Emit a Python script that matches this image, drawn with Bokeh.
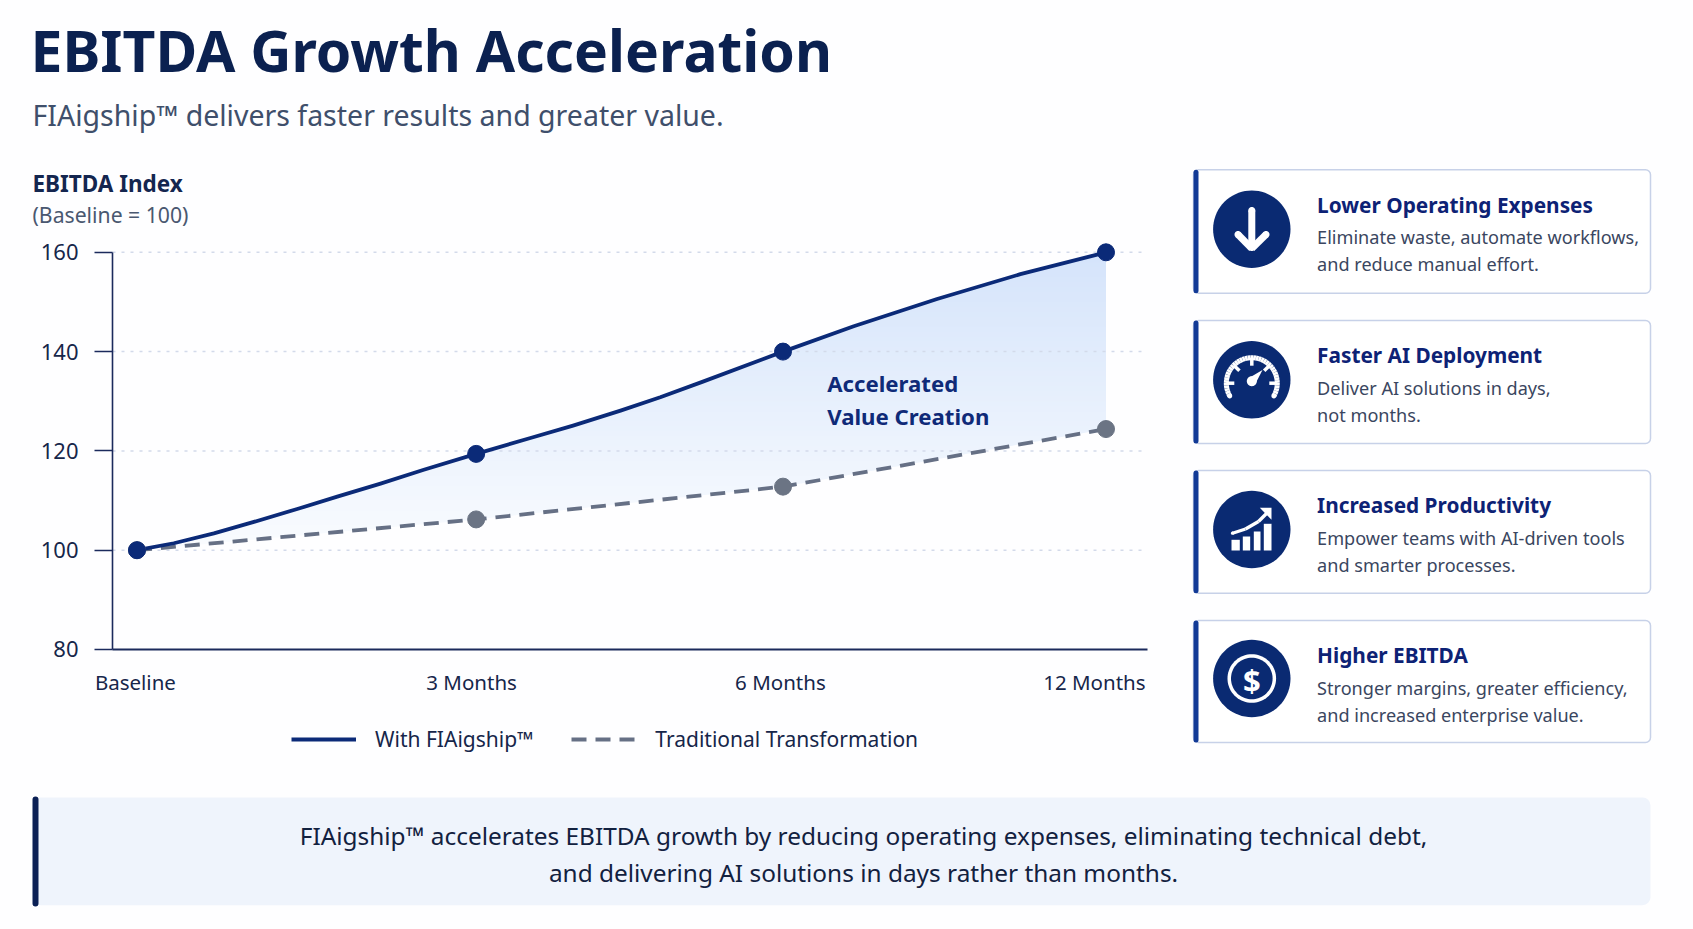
import numpy as np
from bokeh.embed import file_html
from bokeh.resources import INLINE
from bokeh.plotting import figure
from bokeh.models import (BoxAnnotation, FixedTicker, Label, Legend, LegendItem, PolyAnnotation)

TITLE = "EBITDA Growth Acceleration"
SUBTITLE = "FIAigship\u2122 delivers faster results and greater value."
Y_TITLE = "EBITDA Index"
Y_SUB = "(Baseline = 100)"
CATEGORIES = ["Baseline", "3 Months", "6 Months", "12 Months"]
CATEGORY_LABEL_POS = [-0.005, 1.036, 1.992, 2.964]
Y_TICKS = [80, 100, 120, 140, 160]

# marker positions along the (slightly uneven) time axis of the picture
MARK_POS = [0.0, 1.05, 2.0, 3.0]
WITH_VALUES = [100, 119.4, 140, 160]
TRAD_VALUES = [100, 106.2, 112.8, 124.4]
# the solid curve
WITH_CURVE_POS = [0.0, 0.114, 0.238, 0.362, 0.496, 0.62, 0.754, 0.888, 1.05, 1.218, 1.35, 1.497,
                  1.62, 1.75, 2.0, 2.219, 2.477, 2.735, 3.0]
WITH_CURVE_VAL = [100, 101.4, 103.4, 105.7, 108.3, 110.8, 113.4, 116.2, 119.4, 122.6, 125.1, 128.1,
                  130.8, 133.9, 140, 145.1, 150.6, 155.6, 160]

SERIES_WITH = "With FIAigship\u2122"
SERIES_TRAD = "Traditional Transformation"
CALLOUT = ["Accelerated", "Value Creation"]
CARD_TITLES = ["Lower Operating Expenses", "Faster AI Deployment", "Increased Productivity", "Higher EBITDA"]
CARD_LINE1 = ["Eliminate waste, automate workflows,", "Deliver AI solutions in days,",
              "Empower teams with AI-driven tools", "Stronger margins, greater efficiency,"]
CARD_LINE2 = ["and reduce manual effort.", "not months.", "and smarter processes.",
              "and increased enterprise value."]
FOOTER = ["FIAigship\u2122 accelerates EBITDA growth by reducing operating expenses, eliminating technical debt,",
          "and delivering AI solutions in days rather than months."]

NAVY = "#0b2a78"
GREY = "#667085"
AXIS = "#1b2a5c"
ICON = "#0a2a72"
FONT = "Noto Sans"
BG = "#fefeff"
LVL = "annotation"

W, H = 1693, 929
X_LEFT, X_RIGHT = -0.07585, 3.1285
Y_BOTTOM, Y_TOP = 80, 160

# The frame fills the whole canvas so that nothing outside the chart box is clipped;
# the ranges are chosen so that the chart box lands where it does in the picture.
p = figure(width=W, height=H, output_backend="svg", toolbar_location=None,
           x_range=(-0.4226, 4.81889), y_range=(23.6, 210.72), min_border=0)
p.background_fill_color = BG
p.border_fill_color = BG
p.outline_line_color = None
p.grid.visible = False

# axes
ya = p.yaxis[0]
ya.fixed_location = X_LEFT
ya.ticker = FixedTicker(ticks=Y_TICKS)
ya.bounds = (Y_BOTTOM, Y_TOP)
ya.axis_line_color = AXIS
ya.axis_line_width = 1.6
ya.major_tick_line_color = AXIS
ya.major_tick_line_width = 1.6
ya.major_tick_out = 18
ya.major_tick_in = 0
ya.minor_tick_out = 0
ya.minor_tick_in = 0
ya.major_label_text_font = FONT
ya.major_label_text_font_size = "22px"
ya.major_label_text_color = "#16264a"
ya.major_label_standoff = 16

xa = p.xaxis[0]
xa.fixed_location = Y_BOTTOM
xa.ticker = FixedTicker(ticks=CATEGORY_LABEL_POS)
xa.bounds = (X_LEFT, X_RIGHT)
xa.major_label_overrides = dict(zip(CATEGORY_LABEL_POS, CATEGORIES))
xa.axis_line_color = AXIS
xa.axis_line_width = 2
xa.major_tick_out = 0
xa.major_tick_in = 0
xa.minor_tick_out = 0
xa.minor_tick_in = 0
xa.major_label_text_font = FONT
xa.major_label_text_font_size = "20.5px"
xa.major_label_text_color = "#16264a"
xa.major_label_standoff = 19

# dotted grid lines at the ticks
grid_y = [t for t in Y_TICKS if t != Y_BOTTOM]
p.segment([X_LEFT] * len(grid_y), grid_y, [X_RIGHT] * len(grid_y), grid_y,
          line_color="#d3daea", line_width=1.5, line_dash="3 6", level="underlay")

# gradient fill between the two curves: stacked opaque value bands
grid_x = np.linspace(0, 3, 700)
upper = np.interp(grid_x, WITH_CURVE_POS, WITH_CURVE_VAL)
lower = np.interp(grid_x, MARK_POS, TRAD_VALUES)
top_c, bot_c = np.array([0xd5, 0xe4, 0xfb]), np.array([0xfa, 0xfc, 0xff])
edges = np.linspace(100, 160, 61)
for lo, hi in zip(edges[:-1], edges[1:]):
    y1 = np.maximum(lower, lo)
    y2 = np.minimum(upper, hi + 0.15)
    m = y2 > y1
    if m.sum() < 2:
        continue
    t = ((lo + hi) / 2 - 100) / 60
    c = (bot_c + (top_c - bot_c) * t).astype(int)
    p.varea(grid_x[m], y1[m], y2[m], fill_color="#%02x%02x%02x" % tuple(c), level="image")

# lines and markers
r_trad = p.line(MARK_POS, TRAD_VALUES, line_color=GREY, line_width=3.8, line_dash="15 9")
r_with = p.line(WITH_CURVE_POS, WITH_CURVE_VAL, line_color=NAVY, line_width=3.8, line_join="round")
p.scatter(MARK_POS, TRAD_VALUES, size=17, fill_color="#6b7484", line_color="#6b7484")
p.scatter(MARK_POS, WITH_VALUES, size=17, fill_color=NAVY, line_color=NAVY)

legend = Legend(items=[LegendItem(label=SERIES_WITH, renderers=[r_with]),
                       LegendItem(label=SERIES_TRAD, renderers=[r_trad])],
                orientation="horizontal", location=(291, 176),
                background_fill_alpha=0, border_line_alpha=0, padding=0, margin=0,
                glyph_width=65, glyph_height=22, label_standoff=19, spacing=38,
                label_text_font=FONT, label_text_font_size="21px", label_text_color="#16264a")
p.add_layout(legend)

BASE_SHIFT = 0.39  # Label places "alphabetic" text this many ems lower in this setup


def txt(x, y, s, size, color, bold=False, align="left", base="alphabetic"):
    yy = y - BASE_SHIFT * size if base == "alphabetic" else y
    p.add_layout(Label(x=x, y=yy, x_units="canvas", y_units="canvas", text=s,
                       text_font=FONT, text_font_size=f"{size}px", text_color=color,
                       text_font_style="bold" if bold else "normal",
                       text_align=align, text_baseline=base, level=LVL))


def box(x0, y0, x1, y1, fill, line=None, lw=1, radius=0):
    p.add_layout(BoxAnnotation(left=x0, right=x1, top=y0, bottom=y1,
                               left_units="canvas", right_units="canvas",
                               top_units="canvas", bottom_units="canvas",
                               fill_color=fill, fill_alpha=1,
                               line_color=line, line_width=lw, line_alpha=1 if line else 0,
                               border_radius=radius, level=LVL))


def poly(xs, ys, fill):
    p.add_layout(PolyAnnotation(xs=[float(v) for v in xs], ys=[float(v) for v in ys],
                                xs_units="canvas", ys_units="canvas",
                                fill_color=fill, fill_alpha=1, line_alpha=0, level=LVL))


def disc(cx, cy, r, fill):
    a = np.linspace(0, 2 * np.pi, 72, endpoint=False)
    poly(cx + r * np.cos(a), cy + r * np.sin(a), fill)


def stroke(pts, w, fill="#ffffff", caps=True):
    for (x0, y0), (x1, y1) in zip(pts[:-1], pts[1:]):
        dx, dy = x1 - x0, y1 - y0
        n = np.hypot(dx, dy)
        nx, ny = -dy / n * w / 2, dx / n * w / 2
        poly([x0 + nx, x1 + nx, x1 - nx, x0 - nx], [y0 + ny, y1 + ny, y1 - ny, y0 - ny], fill)
    if caps:
        for (x, y) in (pts[0], pts[-1]):
            disc(x, y, w / 2, fill)


# header
txt(30, 71.5, TITLE, 57, "#0b2150", bold=True)
txt(32, 126, SUBTITLE, 28.5, "#3f4f6b")
txt(32, 191.5, Y_TITLE, 22.5, "#14264f", bold=True)
txt(32, 222.5, Y_SUB, 21.2, "#4a5870")

# callout
txt(826.7, 391.7, CALLOUT[0], 22.2, "#0f2a78", bold=True)
txt(826.7, 424.3, CALLOUT[1], 22.2, "#0f2a78", bold=True)

# cards
CARD_TOPS = [169.3, 320, 470, 620]
CARD_BOTS = [292.7, 443, 592.7, 742]
CY = [228.7, 379.3, 529, 678]
for i in range(4):
    box(1193, CARD_TOPS[i], 1650, CARD_BOTS[i], "#ffffff", "#c7d1e8", 1.5, 5)
    box(1193, CARD_TOPS[i], 1198, CARD_BOTS[i], "#123a96", None, 1, 3)
    disc(1251.3, CY[i], 38.7, ICON)
    b = CARD_TOPS[i]
    txt(1316.6, b + 43, CARD_TITLES[i], 20.8, "#0d2275", bold=True)
    txt(1316.6, b + 74.7, CARD_LINE1[i], 18.1, "#3a4660")
    txt(1316.6, b + 101.4, CARD_LINE2[i], 18.1, "#3a4660")

# arrow icon
stroke([(1251.3, 210), (1251.3, 247)], 7)
stroke([(1237.5, 234), (1251.3, 248), (1265.5, 234)], 7)

# gauge icon
gx, gy, gr = 1251.3, 382.7, 25.5
stroke([(gx + gr * np.cos(a), gy + gr * np.sin(a)) for a in np.radians(np.linspace(150, 390, 40))], 5)
for a in (-180, -135, -90, -45, 0):
    r = np.radians(a)
    stroke([(gx + gr * np.cos(r), gy + gr * np.sin(r)), (gx + (gr - 8) * np.cos(r), gy + (gr - 8) * np.sin(r))], 3.5, caps=False)
disc(1251.3, 380.7, 5, "#ffffff")
poly([1247.5, 1262, 1254.5], [378, 369.5, 384], "#ffffff")

# growth icon
for x0, x1, y0 in [(1231, 1239.3, 539.3), (1242.3, 1249.7, 536), (1253.3, 1260, 531), (1263.3, 1271, 523.3)]:
    box(x0, y0, x1, 550, "#ffffff")
stroke([(1232, 532.7), (1245, 528.5), (1258, 521), (1268, 511)], 3.3)
poly([1259.3, 1271, 1271], [507.3, 507.3, 519.3], "#ffffff")

# dollar icon
disc(1251.3, 678, 24.3, "#ffffff")
disc(1251.3, 678, 20.8, ICON)
txt(1251.3, 679, "$", 31, "#ffffff", bold=True, align="center", base="middle")

# footer
box(32, 797, 1650, 904.7, "#eff4fc", None, 1, 8)
box(32, 796, 38, 906, "#0b2055", None, 1, 3)
txt(863, 845, FOOTER[0], 24.4, "#12213f", align="center")
txt(863, 882, FOOTER[1], 24.4, "#12213f", align="center")

open("out.html", "w").write(file_html(p, INLINE))
